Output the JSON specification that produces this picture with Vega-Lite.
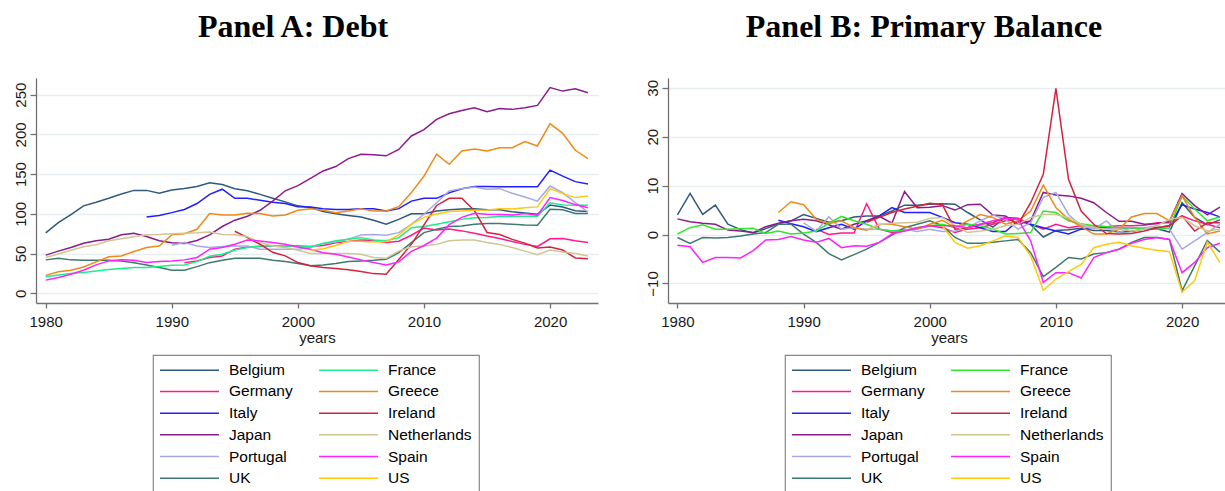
{
"$schema": "https://vega.github.io/schema/vega-lite/v6.json",
"background": "white",
"padding": {"left": 12, "top": 11, "right": 0, "bottom": 0},
"spacing": 46,
"datasets": {
"debt": [
{"c":"Belgium","y":1980,"v":76},{"c":"Belgium","y":1981,"v":89},{"c":"Belgium","y":1982,"v":99},{"c":"Belgium","y":1983,"v":110},{"c":"Belgium","y":1984,"v":114.5},{"c":"Belgium","y":1985,"v":119.5},{"c":"Belgium","y":1986,"v":125},{"c":"Belgium","y":1987,"v":129.5},{"c":"Belgium","y":1988,"v":129.5},{"c":"Belgium","y":1989,"v":126},
{"c":"Belgium","y":1990,"v":130},{"c":"Belgium","y":1991,"v":132},{"c":"Belgium","y":1992,"v":134.5},{"c":"Belgium","y":1993,"v":139},{"c":"Belgium","y":1994,"v":137},{"c":"Belgium","y":1995,"v":131.5},{"c":"Belgium","y":1996,"v":129},{"c":"Belgium","y":1997,"v":124.5},{"c":"Belgium","y":1998,"v":119.5},{"c":"Belgium","y":1999,"v":115},
{"c":"Belgium","y":2000,"v":110},{"c":"Belgium","y":2001,"v":108},{"c":"Belgium","y":2002,"v":103},{"c":"Belgium","y":2003,"v":100},{"c":"Belgium","y":2004,"v":98},{"c":"Belgium","y":2005,"v":96},{"c":"Belgium","y":2006,"v":92},{"c":"Belgium","y":2007,"v":87},{"c":"Belgium","y":2008,"v":93},{"c":"Belgium","y":2009,"v":100},
{"c":"Belgium","y":2010,"v":100},{"c":"Belgium","y":2011,"v":103.5},{"c":"Belgium","y":2012,"v":105},{"c":"Belgium","y":2013,"v":106},{"c":"Belgium","y":2014,"v":106.5},{"c":"Belgium","y":2015,"v":105},{"c":"Belgium","y":2016,"v":105},{"c":"Belgium","y":2017,"v":102.5},{"c":"Belgium","y":2018,"v":101},{"c":"Belgium","y":2019,"v":99.5},
{"c":"Belgium","y":2020,"v":111},{"c":"Belgium","y":2021,"v":108.5},{"c":"Belgium","y":2022,"v":104},{"c":"Belgium","y":2023,"v":103},
{"c":"Germany","y":1991,"v":38.5},{"c":"Germany","y":1992,"v":40.7},{"c":"Germany","y":1993,"v":45},{"c":"Germany","y":1994,"v":47},{"c":"Germany","y":1995,"v":55.5},{"c":"Germany","y":1996,"v":58.3},{"c":"Germany","y":1997,"v":58.7},{"c":"Germany","y":1998,"v":59},{"c":"Germany","y":1999,"v":59.5},
{"c":"Germany","y":2000,"v":59.5},{"c":"Germany","y":2001,"v":58.7},{"c":"Germany","y":2002,"v":60},{"c":"Germany","y":2003,"v":63.5},{"c":"Germany","y":2004,"v":65},{"c":"Germany","y":2005,"v":67},{"c":"Germany","y":2006,"v":66.5},{"c":"Germany","y":2007,"v":64},{"c":"Germany","y":2008,"v":65.5},{"c":"Germany","y":2009,"v":73},
{"c":"Germany","y":2010,"v":82},{"c":"Germany","y":2011,"v":79.5},{"c":"Germany","y":2012,"v":81},{"c":"Germany","y":2013,"v":78.5},{"c":"Germany","y":2014,"v":75.5},{"c":"Germany","y":2015,"v":72},{"c":"Germany","y":2016,"v":69},{"c":"Germany","y":2017,"v":65},{"c":"Germany","y":2018,"v":61.5},{"c":"Germany","y":2019,"v":59},
{"c":"Germany","y":2020,"v":68.5},{"c":"Germany","y":2021,"v":69},{"c":"Germany","y":2022,"v":66},{"c":"Germany","y":2023,"v":64},
{"c":"Italy","y":1988,"v":96},{"c":"Italy","y":1989,"v":98},{"c":"Italy","y":1990,"v":101.5},{"c":"Italy","y":1991,"v":105.5},{"c":"Italy","y":1992,"v":113},{"c":"Italy","y":1993,"v":124.5},{"c":"Italy","y":1994,"v":131},{"c":"Italy","y":1995,"v":119.5},{"c":"Italy","y":1996,"v":119.5},{"c":"Italy","y":1997,"v":117},{"c":"Italy","y":1998,"v":114.5},{"c":"Italy","y":1999,"v":113},
{"c":"Italy","y":2000,"v":109},{"c":"Italy","y":2001,"v":108.5},{"c":"Italy","y":2002,"v":106.5},{"c":"Italy","y":2003,"v":105.5},{"c":"Italy","y":2004,"v":105.5},{"c":"Italy","y":2005,"v":106.5},{"c":"Italy","y":2006,"v":106.5},{"c":"Italy","y":2007,"v":103.5},{"c":"Italy","y":2008,"v":106.5},{"c":"Italy","y":2009,"v":116},
{"c":"Italy","y":2010,"v":119.5},{"c":"Italy","y":2011,"v":119.5},{"c":"Italy","y":2012,"v":126.5},{"c":"Italy","y":2013,"v":131.5},{"c":"Italy","y":2014,"v":134.5},{"c":"Italy","y":2015,"v":134.5},{"c":"Italy","y":2016,"v":134},{"c":"Italy","y":2017,"v":134},{"c":"Italy","y":2018,"v":134},{"c":"Italy","y":2019,"v":134},
{"c":"Italy","y":2020,"v":155},{"c":"Italy","y":2021,"v":147.5},{"c":"Italy","y":2022,"v":140.5},{"c":"Italy","y":2023,"v":137.5},
{"c":"Japan","y":1980,"v":48},{"c":"Japan","y":1981,"v":53},{"c":"Japan","y":1982,"v":57.5},{"c":"Japan","y":1983,"v":63},{"c":"Japan","y":1984,"v":66},{"c":"Japan","y":1985,"v":68},{"c":"Japan","y":1986,"v":73.5},{"c":"Japan","y":1987,"v":75.5},{"c":"Japan","y":1988,"v":71.5},{"c":"Japan","y":1989,"v":66},
{"c":"Japan","y":1990,"v":63.5},{"c":"Japan","y":1991,"v":62.5},{"c":"Japan","y":1992,"v":66.5},{"c":"Japan","y":1993,"v":73.5},{"c":"Japan","y":1994,"v":84},{"c":"Japan","y":1995,"v":92},{"c":"Japan","y":1996,"v":97},{"c":"Japan","y":1997,"v":104.5},{"c":"Japan","y":1998,"v":116},{"c":"Japan","y":1999,"v":129},
{"c":"Japan","y":2000,"v":135.5},{"c":"Japan","y":2001,"v":144.5},{"c":"Japan","y":2002,"v":154},{"c":"Japan","y":2003,"v":159.5},{"c":"Japan","y":2004,"v":169.5},{"c":"Japan","y":2005,"v":175},{"c":"Japan","y":2006,"v":174.5},{"c":"Japan","y":2007,"v":173},{"c":"Japan","y":2008,"v":181},{"c":"Japan","y":2009,"v":198},
{"c":"Japan","y":2010,"v":206},{"c":"Japan","y":2011,"v":219},{"c":"Japan","y":2012,"v":226},{"c":"Japan","y":2013,"v":230},{"c":"Japan","y":2014,"v":233.5},{"c":"Japan","y":2015,"v":228.5},{"c":"Japan","y":2016,"v":232.5},{"c":"Japan","y":2017,"v":231.5},{"c":"Japan","y":2018,"v":233.5},{"c":"Japan","y":2019,"v":236.5},
{"c":"Japan","y":2020,"v":259},{"c":"Japan","y":2021,"v":254.5},{"c":"Japan","y":2022,"v":257.5},{"c":"Japan","y":2023,"v":252.5},
{"c":"Portugal","y":1990,"v":60.5},{"c":"Portugal","y":1991,"v":63.8},{"c":"Portugal","y":1992,"v":59.6},{"c":"Portugal","y":1993,"v":57.5},{"c":"Portugal","y":1994,"v":58.7},{"c":"Portugal","y":1995,"v":59.6},{"c":"Portugal","y":1996,"v":59.6},{"c":"Portugal","y":1997,"v":55.4},{"c":"Portugal","y":1998,"v":55.4},{"c":"Portugal","y":1999,"v":55.4},
{"c":"Portugal","y":2000,"v":55.4},{"c":"Portugal","y":2001,"v":57.5},{"c":"Portugal","y":2002,"v":62.5},{"c":"Portugal","y":2003,"v":64.6},{"c":"Portugal","y":2004,"v":68},{"c":"Portugal","y":2005,"v":73.4},{"c":"Portugal","y":2006,"v":74},{"c":"Portugal","y":2007,"v":73},{"c":"Portugal","y":2008,"v":76.3},{"c":"Portugal","y":2009,"v":86.8},
{"c":"Portugal","y":2010,"v":99.4},{"c":"Portugal","y":2011,"v":114},{"c":"Portugal","y":2012,"v":128.8},{"c":"Portugal","y":2013,"v":131.7},{"c":"Portugal","y":2014,"v":133.8},{"c":"Portugal","y":2015,"v":130.9},{"c":"Portugal","y":2016,"v":131.7},{"c":"Portugal","y":2017,"v":125.8},{"c":"Portugal","y":2018,"v":121.2},{"c":"Portugal","y":2019,"v":116},
{"c":"Portugal","y":2020,"v":135},{"c":"Portugal","y":2021,"v":126.7},{"c":"Portugal","y":2022,"v":114},{"c":"Portugal","y":2023,"v":102.3},
{"c":"UK","y":1980,"v":42},{"c":"UK","y":1981,"v":44},{"c":"UK","y":1982,"v":42},{"c":"UK","y":1983,"v":41.5},{"c":"UK","y":1984,"v":41.5},{"c":"UK","y":1985,"v":41.5},{"c":"UK","y":1986,"v":40.5},{"c":"UK","y":1987,"v":38.5},{"c":"UK","y":1988,"v":35.5},{"c":"UK","y":1989,"v":32.5},
{"c":"UK","y":1990,"v":29},{"c":"UK","y":1991,"v":29},{"c":"UK","y":1992,"v":33.5},{"c":"UK","y":1993,"v":38.5},{"c":"UK","y":1994,"v":41.5},{"c":"UK","y":1995,"v":44},{"c":"UK","y":1996,"v":44},{"c":"UK","y":1997,"v":44},{"c":"UK","y":1998,"v":41.5},{"c":"UK","y":1999,"v":40},
{"c":"UK","y":2000,"v":37.3},{"c":"UK","y":2001,"v":34.5},{"c":"UK","y":2002,"v":35.5},{"c":"UK","y":2003,"v":37.3},{"c":"UK","y":2004,"v":40},{"c":"UK","y":2005,"v":40.7},{"c":"UK","y":2006,"v":41.5},{"c":"UK","y":2007,"v":42.8},{"c":"UK","y":2008,"v":51},{"c":"UK","y":2009,"v":63.8},
{"c":"UK","y":2010,"v":76.3},{"c":"UK","y":2011,"v":80.5},{"c":"UK","y":2012,"v":84},{"c":"UK","y":2013,"v":84.7},{"c":"UK","y":2014,"v":86.8},{"c":"UK","y":2015,"v":87.7},{"c":"UK","y":2016,"v":87.7},{"c":"UK","y":2017,"v":86.8},{"c":"UK","y":2018,"v":86},{"c":"UK","y":2019,"v":85.6},
{"c":"UK","y":2020,"v":105.7},{"c":"UK","y":2021,"v":105},{"c":"UK","y":2022,"v":100.3},{"c":"UK","y":2023,"v":100.3},
{"c":"France","y":1980,"v":20.7},{"c":"France","y":1981,"v":23},{"c":"France","y":1982,"v":25},{"c":"France","y":1983,"v":26},{"c":"France","y":1984,"v":28},{"c":"France","y":1985,"v":30},{"c":"France","y":1986,"v":31},{"c":"France","y":1987,"v":32.3},{"c":"France","y":1988,"v":32.3},{"c":"France","y":1989,"v":33.6},
{"c":"France","y":1990,"v":35.2},{"c":"France","y":1991,"v":35.7},{"c":"France","y":1992,"v":39.8},{"c":"France","y":1993,"v":46.5},{"c":"France","y":1994,"v":49},{"c":"France","y":1995,"v":54.5},{"c":"France","y":1996,"v":57.5},{"c":"France","y":1997,"v":59.5},{"c":"France","y":1998,"v":59.5},{"c":"France","y":1999,"v":59.5},
{"c":"France","y":2000,"v":58.7},{"c":"France","y":2001,"v":58.5},{"c":"France","y":2002,"v":62.5},{"c":"France","y":2003,"v":66},{"c":"France","y":2004,"v":68},{"c":"France","y":2005,"v":70},{"c":"France","y":2006,"v":67},{"c":"France","y":2007,"v":66},{"c":"France","y":2008,"v":70},{"c":"France","y":2009,"v":82.6},
{"c":"France","y":2010,"v":84},{"c":"France","y":2011,"v":86.8},{"c":"France","y":2012,"v":90},{"c":"France","y":2013,"v":93},{"c":"France","y":2014,"v":95},{"c":"France","y":2015,"v":95.5},{"c":"France","y":2016,"v":97},{"c":"France","y":2017,"v":97},{"c":"France","y":2018,"v":97},{"c":"France","y":2019,"v":97},
{"c":"France","y":2020,"v":114},{"c":"France","y":2021,"v":111},{"c":"France","y":2022,"v":110.7},{"c":"France","y":2023,"v":110.7},
{"c":"Greece","y":1980,"v":22.5},{"c":"Greece","y":1981,"v":27},{"c":"Greece","y":1982,"v":29},{"c":"Greece","y":1983,"v":33},{"c":"Greece","y":1984,"v":39.5},{"c":"Greece","y":1985,"v":46},{"c":"Greece","y":1986,"v":47},{"c":"Greece","y":1987,"v":52.5},{"c":"Greece","y":1988,"v":57.5},{"c":"Greece","y":1989,"v":59.5},
{"c":"Greece","y":1990,"v":73.5},{"c":"Greece","y":1991,"v":75},{"c":"Greece","y":1992,"v":80.5},{"c":"Greece","y":1993,"v":100.3},{"c":"Greece","y":1994,"v":98.6},{"c":"Greece","y":1995,"v":98.6},{"c":"Greece","y":1996,"v":100.7},{"c":"Greece","y":1997,"v":100.3},{"c":"Greece","y":1998,"v":97.3},{"c":"Greece","y":1999,"v":98.6},
{"c":"Greece","y":2000,"v":104.4},{"c":"Greece","y":2001,"v":106.5},{"c":"Greece","y":2002,"v":104.4},{"c":"Greece","y":2003,"v":101.5},{"c":"Greece","y":2004,"v":103.6},{"c":"Greece","y":2005,"v":106.5},{"c":"Greece","y":2006,"v":103.6},{"c":"Greece","y":2007,"v":103.6},{"c":"Greece","y":2008,"v":109},{"c":"Greece","y":2009,"v":126.7},
{"c":"Greece","y":2010,"v":147.6},{"c":"Greece","y":2011,"v":175},{"c":"Greece","y":2012,"v":162.3},{"c":"Greece","y":2013,"v":179},{"c":"Greece","y":2014,"v":181.6},{"c":"Greece","y":2015,"v":179},{"c":"Greece","y":2016,"v":183.3},{"c":"Greece","y":2017,"v":183.3},{"c":"Greece","y":2018,"v":190.9},{"c":"Greece","y":2019,"v":185.4},
{"c":"Greece","y":2020,"v":213.5},{"c":"Greece","y":2021,"v":201.3},{"c":"Greece","y":2022,"v":180},{"c":"Greece","y":2023,"v":169.5},
{"c":"Ireland","y":1995,"v":78},{"c":"Ireland","y":1996,"v":70},{"c":"Ireland","y":1997,"v":61.7},{"c":"Ireland","y":1998,"v":51.5},{"c":"Ireland","y":1999,"v":47},
{"c":"Ireland","y":2000,"v":38.6},{"c":"Ireland","y":2001,"v":34.5},{"c":"Ireland","y":2002,"v":32.5},{"c":"Ireland","y":2003,"v":31},{"c":"Ireland","y":2004,"v":29.5},{"c":"Ireland","y":2005,"v":27.5},{"c":"Ireland","y":2006,"v":24.7},{"c":"Ireland","y":2007,"v":24},{"c":"Ireland","y":2008,"v":42.5},{"c":"Ireland","y":2009,"v":61.5},
{"c":"Ireland","y":2010,"v":86},{"c":"Ireland","y":2011,"v":110.5},{"c":"Ireland","y":2012,"v":119.5},{"c":"Ireland","y":2013,"v":119.5},{"c":"Ireland","y":2014,"v":104},{"c":"Ireland","y":2015,"v":76.5},{"c":"Ireland","y":2016,"v":74},{"c":"Ireland","y":2017,"v":67.8},{"c":"Ireland","y":2018,"v":63.1},{"c":"Ireland","y":2019,"v":57.1},
{"c":"Ireland","y":2020,"v":58.1},{"c":"Ireland","y":2021,"v":54.4},{"c":"Ireland","y":2022,"v":44.4},{"c":"Ireland","y":2023,"v":43.3},
{"c":"Netherlands","y":1980,"v":45},{"c":"Netherlands","y":1981,"v":49.5},{"c":"Netherlands","y":1982,"v":54},{"c":"Netherlands","y":1983,"v":58.5},{"c":"Netherlands","y":1984,"v":61},{"c":"Netherlands","y":1985,"v":66},{"c":"Netherlands","y":1986,"v":68.5},{"c":"Netherlands","y":1987,"v":71},{"c":"Netherlands","y":1988,"v":73.5},{"c":"Netherlands","y":1989,"v":74},
{"c":"Netherlands","y":1990,"v":75},{"c":"Netherlands","y":1991,"v":75.5},{"c":"Netherlands","y":1992,"v":76},{"c":"Netherlands","y":1993,"v":77},{"c":"Netherlands","y":1994,"v":74},{"c":"Netherlands","y":1995,"v":73.5},{"c":"Netherlands","y":1996,"v":71},{"c":"Netherlands","y":1997,"v":64},{"c":"Netherlands","y":1998,"v":59.5},{"c":"Netherlands","y":1999,"v":57.5},
{"c":"Netherlands","y":2000,"v":54},{"c":"Netherlands","y":2001,"v":50},{"c":"Netherlands","y":2002,"v":50},{"c":"Netherlands","y":2003,"v":50},{"c":"Netherlands","y":2004,"v":50},{"c":"Netherlands","y":2005,"v":49},{"c":"Netherlands","y":2006,"v":45},{"c":"Netherlands","y":2007,"v":44},{"c":"Netherlands","y":2008,"v":53},{"c":"Netherlands","y":2009,"v":58.5},
{"c":"Netherlands","y":2010,"v":59.5},{"c":"Netherlands","y":2011,"v":61.5},{"c":"Netherlands","y":2012,"v":66},{"c":"Netherlands","y":2013,"v":67},{"c":"Netherlands","y":2014,"v":67},{"c":"Netherlands","y":2015,"v":64},{"c":"Netherlands","y":2016,"v":61.5},{"c":"Netherlands","y":2017,"v":57.5},{"c":"Netherlands","y":2018,"v":53},{"c":"Netherlands","y":2019,"v":48.5},
{"c":"Netherlands","y":2020,"v":54.5},{"c":"Netherlands","y":2021,"v":52},{"c":"Netherlands","y":2022,"v":50},{"c":"Netherlands","y":2023,"v":47},
{"c":"Spain","y":1980,"v":16.5},{"c":"Spain","y":1981,"v":19.7},{"c":"Spain","y":1982,"v":24},{"c":"Spain","y":1983,"v":29},{"c":"Spain","y":1984,"v":35.7},{"c":"Spain","y":1985,"v":40.7},{"c":"Spain","y":1986,"v":42},{"c":"Spain","y":1987,"v":41.5},{"c":"Spain","y":1988,"v":38.6},{"c":"Spain","y":1989,"v":39.8},
{"c":"Spain","y":1990,"v":40.7},{"c":"Spain","y":1991,"v":42},{"c":"Spain","y":1992,"v":45},{"c":"Spain","y":1993,"v":55.4},{"c":"Spain","y":1994,"v":57.5},{"c":"Spain","y":1995,"v":61.7},{"c":"Spain","y":1996,"v":67},{"c":"Spain","y":1997,"v":65.9},{"c":"Spain","y":1998,"v":63.8},{"c":"Spain","y":1999,"v":61.7},
{"c":"Spain","y":2000,"v":58.3},{"c":"Spain","y":2001,"v":55.4},{"c":"Spain","y":2002,"v":51},{"c":"Spain","y":2003,"v":49},{"c":"Spain","y":2004,"v":45.7},{"c":"Spain","y":2005,"v":42},{"c":"Spain","y":2006,"v":38.6},{"c":"Spain","y":2007,"v":35.7},{"c":"Spain","y":2008,"v":39.5},{"c":"Spain","y":2009,"v":52.7},
{"c":"Spain","y":2010,"v":60.1},{"c":"Spain","y":2011,"v":69.5},{"c":"Spain","y":2012,"v":86.3},{"c":"Spain","y":2013,"v":95.5},{"c":"Spain","y":2014,"v":100.7},{"c":"Spain","y":2015,"v":99.3},{"c":"Spain","y":2016,"v":99.2},{"c":"Spain","y":2017,"v":98.6},{"c":"Spain","y":2018,"v":100.5},{"c":"Spain","y":2019,"v":98.2},
{"c":"Spain","y":2020,"v":120.4},{"c":"Spain","y":2021,"v":116.8},{"c":"Spain","y":2022,"v":111.6},{"c":"Spain","y":2023,"v":107.7},
{"c":"US","y":2001,"v":54},{"c":"US","y":2002,"v":56},{"c":"US","y":2003,"v":60},{"c":"US","y":2004,"v":65.5},{"c":"US","y":2005,"v":65.5},{"c":"US","y":2006,"v":64.5},{"c":"US","y":2007,"v":65},{"c":"US","y":2008,"v":73.5},{"c":"US","y":2009,"v":86.7},
{"c":"US","y":2010,"v":95.5},{"c":"US","y":2011,"v":99.8},{"c":"US","y":2012,"v":102.8},{"c":"US","y":2013,"v":103.6},{"c":"US","y":2014,"v":104.4},{"c":"US","y":2015,"v":104.8},{"c":"US","y":2016,"v":106.5},{"c":"US","y":2017,"v":106.2},{"c":"US","y":2018,"v":107.5},{"c":"US","y":2019,"v":108.7},
{"c":"US","y":2020,"v":131.7},{"c":"US","y":2021,"v":125.4},{"c":"US","y":2022,"v":120.4},{"c":"US","y":2023,"v":122.3}
],
"pb": [
{"c":"Belgium","y":1980,"v":4.0},{"c":"Belgium","y":1981,"v":8.4},{"c":"Belgium","y":1982,"v":4.1},{"c":"Belgium","y":1983,"v":6.0},{"c":"Belgium","y":1984,"v":2.1},{"c":"Belgium","y":1985,"v":1.0},{"c":"Belgium","y":1986,"v":0.3},{"c":"Belgium","y":1987,"v":1.2},{"c":"Belgium","y":1988,"v":2.2},{"c":"Belgium","y":1989,"v":2.8},
{"c":"Belgium","y":1990,"v":4.1},{"c":"Belgium","y":1991,"v":3.3},{"c":"Belgium","y":1992,"v":2.5},{"c":"Belgium","y":1993,"v":2.8},{"c":"Belgium","y":1994,"v":3.6},{"c":"Belgium","y":1995,"v":3.8},{"c":"Belgium","y":1996,"v":3.8},{"c":"Belgium","y":1997,"v":4.8},{"c":"Belgium","y":1998,"v":6.0},{"c":"Belgium","y":1999,"v":6.0},
{"c":"Belgium","y":2000,"v":6.2},{"c":"Belgium","y":2001,"v":6.3},{"c":"Belgium","y":2002,"v":6.2},{"c":"Belgium","y":2003,"v":4.5},{"c":"Belgium","y":2004,"v":3.0},{"c":"Belgium","y":2005,"v":1.5},{"c":"Belgium","y":2006,"v":3.5},{"c":"Belgium","y":2007,"v":3.3},{"c":"Belgium","y":2008,"v":2.0},{"c":"Belgium","y":2009,"v":-0.5},
{"c":"Belgium","y":2010,"v":0.8},{"c":"Belgium","y":2011,"v":1.0},{"c":"Belgium","y":2012,"v":1.3},{"c":"Belgium","y":2013,"v":0.8},{"c":"Belgium","y":2014,"v":0.8},{"c":"Belgium","y":2015,"v":0.5},{"c":"Belgium","y":2016,"v":0.6},{"c":"Belgium","y":2017,"v":1.2},{"c":"Belgium","y":2018,"v":1.2},{"c":"Belgium","y":2019,"v":0.5},
{"c":"Belgium","y":2020,"v":6.5},{"c":"Belgium","y":2021,"v":3.5},{"c":"Belgium","y":2022,"v":2.0},{"c":"Belgium","y":2023,"v":3.0},
{"c":"Germany","y":1991,"v":1.1},{"c":"Germany","y":1992,"v":0.0},{"c":"Germany","y":1993,"v":0.3},{"c":"Germany","y":1994,"v":0.3},{"c":"Germany","y":1995,"v":6.3},{"c":"Germany","y":1996,"v":1.1},{"c":"Germany","y":1997,"v":0.4},{"c":"Germany","y":1998,"v":0.8},{"c":"Germany","y":1999,"v":1.2},
{"c":"Germany","y":2000,"v":1.8},{"c":"Germany","y":2001,"v":1.4},{"c":"Germany","y":2002,"v":0.4},{"c":"Germany","y":2003,"v":1.1},{"c":"Germany","y":2004,"v":1.4},{"c":"Germany","y":2005,"v":2.1},{"c":"Germany","y":2006,"v":2.8},{"c":"Germany","y":2007,"v":3.3},{"c":"Germany","y":2008,"v":2.1},{"c":"Germany","y":2009,"v":1.1},
{"c":"Germany","y":2010,"v":2.1},{"c":"Germany","y":2011,"v":1.4},{"c":"Germany","y":2012,"v":1.8},{"c":"Germany","y":2013,"v":1.8},{"c":"Germany","y":2014,"v":1.6},{"c":"Germany","y":2015,"v":1.8},{"c":"Germany","y":2016,"v":1.8},{"c":"Germany","y":2017,"v":1.9},{"c":"Germany","y":2018,"v":2.4},{"c":"Germany","y":2019,"v":2.4},
{"c":"Germany","y":2020,"v":3.8},{"c":"Germany","y":2021,"v":2.8},{"c":"Germany","y":2022,"v":2.1},{"c":"Germany","y":2023,"v":1.4},
{"c":"Italy","y":1988,"v":2.9},{"c":"Italy","y":1989,"v":2.2},{"c":"Italy","y":1990,"v":1.6},{"c":"Italy","y":1991,"v":0.6},{"c":"Italy","y":1992,"v":1.4},{"c":"Italy","y":1993,"v":2.1},{"c":"Italy","y":1994,"v":1.1},{"c":"Italy","y":1995,"v":2.8},{"c":"Italy","y":1996,"v":3.8},{"c":"Italy","y":1997,"v":5.5},{"c":"Italy","y":1998,"v":4.5},{"c":"Italy","y":1999,"v":4.5},
{"c":"Italy","y":2000,"v":4.5},{"c":"Italy","y":2001,"v":3.5},{"c":"Italy","y":2002,"v":2.4},{"c":"Italy","y":2003,"v":2.1},{"c":"Italy","y":2004,"v":1.4},{"c":"Italy","y":2005,"v":0.6},{"c":"Italy","y":2006,"v":0.6},{"c":"Italy","y":2007,"v":2.8},{"c":"Italy","y":2008,"v":2.1},{"c":"Italy","y":2009,"v":1.4},
{"c":"Italy","y":2010,"v":0.7},{"c":"Italy","y":2011,"v":0.1},{"c":"Italy","y":2012,"v":1.1},{"c":"Italy","y":2013,"v":1.4},{"c":"Italy","y":2014,"v":1.4},{"c":"Italy","y":2015,"v":1.4},{"c":"Italy","y":2016,"v":1.4},{"c":"Italy","y":2017,"v":1.4},{"c":"Italy","y":2018,"v":1.4},{"c":"Italy","y":2019,"v":1.8},
{"c":"Italy","y":2020,"v":6.1},{"c":"Italy","y":2021,"v":5.2},{"c":"Italy","y":2022,"v":4.5},{"c":"Italy","y":2023,"v":3.6},
{"c":"Japan","y":1980,"v":3.2},{"c":"Japan","y":1981,"v":2.6},{"c":"Japan","y":1982,"v":2.3},{"c":"Japan","y":1983,"v":2.1},{"c":"Japan","y":1984,"v":0.9},{"c":"Japan","y":1985,"v":0.7},{"c":"Japan","y":1986,"v":0.4},{"c":"Japan","y":1987,"v":1.6},{"c":"Japan","y":1988,"v":2.3},{"c":"Japan","y":1989,"v":2.8},
{"c":"Japan","y":1990,"v":3.1},{"c":"Japan","y":1991,"v":2.8},{"c":"Japan","y":1992,"v":2.0},{"c":"Japan","y":1993,"v":1.1},{"c":"Japan","y":1994,"v":2.1},{"c":"Japan","y":1995,"v":2.8},{"c":"Japan","y":1996,"v":3.7},{"c":"Japan","y":1997,"v":2.3},{"c":"Japan","y":1998,"v":8.8},{"c":"Japan","y":1999,"v":5.5},
{"c":"Japan","y":2000,"v":5.6},{"c":"Japan","y":2001,"v":5.9},{"c":"Japan","y":2002,"v":5.0},{"c":"Japan","y":2003,"v":6.1},{"c":"Japan","y":2004,"v":6.2},{"c":"Japan","y":2005,"v":4.0},{"c":"Japan","y":2006,"v":3.8},{"c":"Japan","y":2007,"v":2.1},{"c":"Japan","y":2008,"v":2.8},{"c":"Japan","y":2009,"v":8.6},
{"c":"Japan","y":2010,"v":8.1},{"c":"Japan","y":2011,"v":7.9},{"c":"Japan","y":2012,"v":7.4},{"c":"Japan","y":2013,"v":6.5},{"c":"Japan","y":2014,"v":4.5},{"c":"Japan","y":2015,"v":2.7},{"c":"Japan","y":2016,"v":2.7},{"c":"Japan","y":2017,"v":2.1},{"c":"Japan","y":2018,"v":2.2},{"c":"Japan","y":2019,"v":2.7},
{"c":"Japan","y":2020,"v":8.4},{"c":"Japan","y":2021,"v":5.9},{"c":"Japan","y":2022,"v":4.0},{"c":"Japan","y":2023,"v":5.6},
{"c":"Portugal","y":1990,"v":2.4},{"c":"Portugal","y":1991,"v":0.7},{"c":"Portugal","y":1992,"v":3.6},{"c":"Portugal","y":1993,"v":1.1},{"c":"Portugal","y":1994,"v":1.4},{"c":"Portugal","y":1995,"v":1.1},{"c":"Portugal","y":1996,"v":1.1},{"c":"Portugal","y":1997,"v":0.7},{"c":"Portugal","y":1998,"v":1.1},{"c":"Portugal","y":1999,"v":0.6},
{"c":"Portugal","y":2000,"v":1.1},{"c":"Portugal","y":2001,"v":0.6},{"c":"Portugal","y":2002,"v":0.7},{"c":"Portugal","y":2003,"v":1.4},{"c":"Portugal","y":2004,"v":2.8},{"c":"Portugal","y":2005,"v":4.0},{"c":"Portugal","y":2006,"v":3.1},{"c":"Portugal","y":2007,"v":1.1},{"c":"Portugal","y":2008,"v":2.4},{"c":"Portugal","y":2009,"v":7.6},
{"c":"Portugal","y":2010,"v":8.6},{"c":"Portugal","y":2011,"v":4.1},{"c":"Portugal","y":2012,"v":1.8},{"c":"Portugal","y":2013,"v":1.1},{"c":"Portugal","y":2014,"v":2.8},{"c":"Portugal","y":2015,"v":0.4},{"c":"Portugal","y":2016,"v":1.4},{"c":"Portugal","y":2017,"v":1.4},{"c":"Portugal","y":2018,"v":1.8},{"c":"Portugal","y":2019,"v":1.1},
{"c":"Portugal","y":2020,"v":-3.0},{"c":"Portugal","y":2021,"v":-1.3},{"c":"Portugal","y":2022,"v":0.4},{"c":"Portugal","y":2023,"v":2.1},
{"c":"UK","y":1980,"v":-0.6},{"c":"UK","y":1981,"v":-1.8},{"c":"UK","y":1982,"v":-0.6},{"c":"UK","y":1983,"v":-0.7},{"c":"UK","y":1984,"v":-0.6},{"c":"UK","y":1985,"v":-0.3},{"c":"UK","y":1986,"v":0.1},{"c":"UK","y":1987,"v":0.4},{"c":"UK","y":1988,"v":2.1},{"c":"UK","y":1989,"v":2.1},
{"c":"UK","y":1990,"v":0.1},{"c":"UK","y":1991,"v":-1.6},{"c":"UK","y":1992,"v":-3.9},{"c":"UK","y":1993,"v":-5.2},{"c":"UK","y":1994,"v":-4.1},{"c":"UK","y":1995,"v":-3.0},{"c":"UK","y":1996,"v":-1.6},{"c":"UK","y":1997,"v":-0.1},{"c":"UK","y":1998,"v":1.4},{"c":"UK","y":1999,"v":2.1},
{"c":"UK","y":2000,"v":2.8},{"c":"UK","y":2001,"v":1.8},{"c":"UK","y":2002,"v":-0.6},{"c":"UK","y":2003,"v":-1.8},{"c":"UK","y":2004,"v":-1.8},{"c":"UK","y":2005,"v":-1.6},{"c":"UK","y":2006,"v":-1.3},{"c":"UK","y":2007,"v":-1.0},{"c":"UK","y":2008,"v":-3.7},{"c":"UK","y":2009,"v":-8.6},
{"c":"UK","y":2010,"v":-6.7},{"c":"UK","y":2011,"v":-4.7},{"c":"UK","y":2012,"v":-5.0},{"c":"UK","y":2013,"v":-4.0},{"c":"UK","y":2014,"v":-3.7},{"c":"UK","y":2015,"v":-3.0},{"c":"UK","y":2016,"v":-1.6},{"c":"UK","y":2017,"v":-0.6},{"c":"UK","y":2018,"v":-0.6},{"c":"UK","y":2019,"v":-1.0},
{"c":"UK","y":2020,"v":-11.5},{"c":"UK","y":2021,"v":-6.4},{"c":"UK","y":2022,"v":-1.2},{"c":"UK","y":2023,"v":-3.6},
{"c":"France","y":1980,"v":0.1},{"c":"France","y":1981,"v":1.4},{"c":"France","y":1982,"v":2.0},{"c":"France","y":1983,"v":1.1},{"c":"France","y":1984,"v":1.1},{"c":"France","y":1985,"v":1.2},{"c":"France","y":1986,"v":1.3},{"c":"France","y":1987,"v":0.2},{"c":"France","y":1988,"v":0.7},{"c":"France","y":1989,"v":0.1},
{"c":"France","y":1990,"v":0.3},{"c":"France","y":1991,"v":0.7},{"c":"France","y":1992,"v":2.3},{"c":"France","y":1993,"v":3.7},{"c":"France","y":1994,"v":2.8},{"c":"France","y":1995,"v":2.1},{"c":"France","y":1996,"v":1.1},{"c":"France","y":1997,"v":0.7},{"c":"France","y":1998,"v":0.7},{"c":"France","y":1999,"v":1.4},
{"c":"France","y":2000,"v":1.8},{"c":"France","y":2001,"v":2.1},{"c":"France","y":2002,"v":1.4},{"c":"France","y":2003,"v":2.1},{"c":"France","y":2004,"v":1.8},{"c":"France","y":2005,"v":1.1},{"c":"France","y":2006,"v":0.1},{"c":"France","y":2007,"v":0.2},{"c":"France","y":2008,"v":0.4},{"c":"France","y":2009,"v":4.8},
{"c":"France","y":2010,"v":4.5},{"c":"France","y":2011,"v":2.8},{"c":"France","y":2012,"v":2.2},{"c":"France","y":2013,"v":1.8},{"c":"France","y":2014,"v":1.6},{"c":"France","y":2015,"v":1.4},{"c":"France","y":2016,"v":1.4},{"c":"France","y":2017,"v":1.1},{"c":"France","y":2018,"v":1.1},{"c":"France","y":2019,"v":1.4},
{"c":"France","y":2020,"v":7.9},{"c":"France","y":2021,"v":5.2},{"c":"France","y":2022,"v":2.8},{"c":"France","y":2023,"v":3.6},
{"c":"Greece","y":1988,"v":4.5},{"c":"Greece","y":1989,"v":6.7},{"c":"Greece","y":1990,"v":6.1},{"c":"Greece","y":1991,"v":3.1},{"c":"Greece","y":1992,"v":2.2},{"c":"Greece","y":1993,"v":2.8},{"c":"Greece","y":1994,"v":1.4},{"c":"Greece","y":1995,"v":0.9},{"c":"Greece","y":1996,"v":2.1},{"c":"Greece","y":1997,"v":2.1},{"c":"Greece","y":1998,"v":1.6},{"c":"Greece","y":1999,"v":1.1},
{"c":"Greece","y":2000,"v":2.1},{"c":"Greece","y":2001,"v":2.9},{"c":"Greece","y":2002,"v":1.4},{"c":"Greece","y":2003,"v":2.8},{"c":"Greece","y":2004,"v":4.1},{"c":"Greece","y":2005,"v":3.5},{"c":"Greece","y":2006,"v":2.1},{"c":"Greece","y":2007,"v":2.8},{"c":"Greece","y":2008,"v":4.8},{"c":"Greece","y":2009,"v":10.1},
{"c":"Greece","y":2010,"v":5.5},{"c":"Greece","y":2011,"v":3.1},{"c":"Greece","y":2012,"v":1.6},{"c":"Greece","y":2013,"v":0.1},{"c":"Greece","y":2014,"v":0.1},{"c":"Greece","y":2015,"v":1.1},{"c":"Greece","y":2016,"v":3.6},{"c":"Greece","y":2017,"v":4.3},{"c":"Greece","y":2018,"v":4.3},{"c":"Greece","y":2019,"v":2.8},
{"c":"Greece","y":2020,"v":7.9},{"c":"Greece","y":2021,"v":3.5},{"c":"Greece","y":2022,"v":0.1},{"c":"Greece","y":2023,"v":0.7},
{"c":"Ireland","y":1995,"v":2.5},{"c":"Ireland","y":1996,"v":3.5},{"c":"Ireland","y":1997,"v":4.5},{"c":"Ireland","y":1998,"v":5.2},{"c":"Ireland","y":1999,"v":5.8},
{"c":"Ireland","y":2000,"v":6.4},{"c":"Ireland","y":2001,"v":6.1},{"c":"Ireland","y":2002,"v":1.1},{"c":"Ireland","y":2003,"v":1.4},{"c":"Ireland","y":2004,"v":2.1},{"c":"Ireland","y":2005,"v":2.4},{"c":"Ireland","y":2006,"v":3.5},{"c":"Ireland","y":2007,"v":2.1},{"c":"Ireland","y":2008,"v":6.5},{"c":"Ireland","y":2009,"v":12.3},
{"c":"Ireland","y":2010,"v":29.9},{"c":"Ireland","y":2011,"v":11.3},{"c":"Ireland","y":2012,"v":4.8},{"c":"Ireland","y":2013,"v":2.1},{"c":"Ireland","y":2014,"v":0.2},{"c":"Ireland","y":2015,"v":0.1},{"c":"Ireland","y":2016,"v":0.2},{"c":"Ireland","y":2017,"v":0.7},{"c":"Ireland","y":2018,"v":1.4},{"c":"Ireland","y":2019,"v":1.8},
{"c":"Ireland","y":2020,"v":3.8},{"c":"Ireland","y":2021,"v":0.7},{"c":"Ireland","y":2022,"v":2.4},{"c":"Ireland","y":2023,"v":2.4},
{"c":"Netherlands","y":1995,"v":1.0},{"c":"Netherlands","y":1996,"v":2.0},{"c":"Netherlands","y":1997,"v":2.3},{"c":"Netherlands","y":1998,"v":2.4},{"c":"Netherlands","y":1999,"v":2.5},
{"c":"Netherlands","y":2000,"v":3.3},{"c":"Netherlands","y":2001,"v":3.5},{"c":"Netherlands","y":2002,"v":1.8},{"c":"Netherlands","y":2003,"v":0.4},{"c":"Netherlands","y":2004,"v":0.7},{"c":"Netherlands","y":2005,"v":1.1},{"c":"Netherlands","y":2006,"v":1.8},{"c":"Netherlands","y":2007,"v":2.1},{"c":"Netherlands","y":2008,"v":3.5},{"c":"Netherlands","y":2009,"v":4.1},
{"c":"Netherlands","y":2010,"v":4.1},{"c":"Netherlands","y":2011,"v":3.5},{"c":"Netherlands","y":2012,"v":2.1},{"c":"Netherlands","y":2013,"v":1.4},{"c":"Netherlands","y":2014,"v":1.1},{"c":"Netherlands","y":2015,"v":1.1},{"c":"Netherlands","y":2016,"v":0.7},{"c":"Netherlands","y":2017,"v":1.1},{"c":"Netherlands","y":2018,"v":1.8},{"c":"Netherlands","y":2019,"v":3.1},
{"c":"Netherlands","y":2020,"v":3.5},{"c":"Netherlands","y":2021,"v":1.8},{"c":"Netherlands","y":2022,"v":0.7},{"c":"Netherlands","y":2023,"v":1.1},
{"c":"Spain","y":1980,"v":-2.2},{"c":"Spain","y":1981,"v":-2.5},{"c":"Spain","y":1982,"v":-5.7},{"c":"Spain","y":1983,"v":-4.7},{"c":"Spain","y":1984,"v":-4.7},{"c":"Spain","y":1985,"v":-4.8},{"c":"Spain","y":1986,"v":-3.3},{"c":"Spain","y":1987,"v":-1.1},{"c":"Spain","y":1988,"v":-1.0},{"c":"Spain","y":1989,"v":-0.4},
{"c":"Spain","y":1990,"v":-1.1},{"c":"Spain","y":1991,"v":-1.6},{"c":"Spain","y":1992,"v":-0.8},{"c":"Spain","y":1993,"v":-2.7},{"c":"Spain","y":1994,"v":-2.3},{"c":"Spain","y":1995,"v":-2.4},{"c":"Spain","y":1996,"v":-1.6},{"c":"Spain","y":1997,"v":0.1},{"c":"Spain","y":1998,"v":0.7},{"c":"Spain","y":1999,"v":1.4},
{"c":"Spain","y":2000,"v":1.8},{"c":"Spain","y":2001,"v":1.8},{"c":"Spain","y":2002,"v":1.8},{"c":"Spain","y":2003,"v":1.4},{"c":"Spain","y":2004,"v":2.1},{"c":"Spain","y":2005,"v":2.8},{"c":"Spain","y":2006,"v":3.3},{"c":"Spain","y":2007,"v":3.1},{"c":"Spain","y":2008,"v":-1.3},{"c":"Spain","y":2009,"v":-9.8},
{"c":"Spain","y":2010,"v":-7.8},{"c":"Spain","y":2011,"v":-7.8},{"c":"Spain","y":2012,"v":-8.9},{"c":"Spain","y":2013,"v":-4.7},{"c":"Spain","y":2014,"v":-3.7},{"c":"Spain","y":2015,"v":-3.0},{"c":"Spain","y":2016,"v":-1.8},{"c":"Spain","y":2017,"v":-1.0},{"c":"Spain","y":2018,"v":-0.6},{"c":"Spain","y":2019,"v":-1.0},
{"c":"Spain","y":2020,"v":-7.8},{"c":"Spain","y":2021,"v":-5.7},{"c":"Spain","y":2022,"v":-2.7},{"c":"Spain","y":2023,"v":-1.8},
{"c":"US","y":2001,"v":1.8},{"c":"US","y":2002,"v":-1.6},{"c":"US","y":2003,"v":-2.8},{"c":"US","y":2004,"v":-2.3},{"c":"US","y":2005,"v":-1.3},{"c":"US","y":2006,"v":-0.3},{"c":"US","y":2007,"v":-0.6},{"c":"US","y":2008,"v":-4.4},{"c":"US","y":2009,"v":-11.4},
{"c":"US","y":2010,"v":-9.1},{"c":"US","y":2011,"v":-7.6},{"c":"US","y":2012,"v":-6.1},{"c":"US","y":2013,"v":-2.7},{"c":"US","y":2014,"v":-2.0},{"c":"US","y":2015,"v":-1.6},{"c":"US","y":2016,"v":-2.3},{"c":"US","y":2017,"v":-2.8},{"c":"US","y":2018,"v":-3.2},{"c":"US","y":2019,"v":-3.5},
{"c":"US","y":2020,"v":-11.8},{"c":"US","y":2021,"v":-9.4},{"c":"US","y":2022,"v":-1.6},{"c":"US","y":2023,"v":-5.7}
]
},
"hconcat": [
{
"title": {"text": "Panel A: Debt", "dx": -24},
"width": 562, "height": 225,
"data": {"name": "debt"},
"mark": {"type": "line", "strokeWidth": 1.5, "clip": true},
"encoding": {
"x": {"field": "y", "type": "quantitative", "scale": {"domain": [1979.23, 2023.8], "nice": false, "zero": false}, "axis": {"values": [1980, 1990, 2000, 2010, 2020], "format": "d", "title": "years", "grid": false}},
"y": {"field": "v", "type": "quantitative", "scale": {"domain": [-12.3, 271], "nice": false, "zero": false}, "axis": {"values": [0, 50, 100, 150, 200, 250], "title": null, "grid": true, "labelAngle": 270, "labelAlign": "center", "labelBaseline": "alphabetic"}},
"color": {"field": "c", "type": "nominal",
"scale": {"domain": ["Belgium","Germany","Italy","Japan","Portugal","UK","France","Greece","Ireland","Netherlands","Spain","US"],
"range": ["#2f5a7e","#ff1a8c","#1f1fff","#8b1c8b","#a8a8e8","#3e7a6e","#1aef8a","#ef8a17","#d2233f","#d1c594","#ff22ff","#ffc90e"]},
"legend": {"legendX": 117, "legendY": 277}}
}
},
{
"title": {"text": "Panel B: Primary Balance", "dx": -25},
"width": 562, "height": 225,
"data": {"name": "pb"},
"mark": {"type": "line", "strokeWidth": 1.5, "clip": true},
"encoding": {
"x": {"field": "y", "type": "quantitative", "scale": {"domain": [1979.25, 2023.8], "nice": false, "zero": false}, "axis": {"values": [1980, 1990, 2000, 2010, 2020], "format": "d", "title": "years", "grid": false}},
"y": {"field": "v", "type": "quantitative", "scale": {"domain": [-14.0, 32.0], "nice": false, "zero": false}, "axis": {"values": [-10, 0, 10, 20, 30], "title": null, "grid": true, "labelAngle": 270, "labelAlign": "center", "labelBaseline": "alphabetic"}},
"color": {"field": "c", "type": "nominal",
"scale": {"domain": ["Belgium","Germany","Italy","Japan","Portugal","UK","France","Greece","Ireland","Netherlands","Spain","US"],
"range": ["#2f5a7e","#ff1a8c","#1f1fff","#8b1c8b","#a8a8e8","#3e7a6e","#2ee82e","#ef8a17","#d2233f","#d1c594","#ff22ff","#ffc90e"]},
"legend": {"legendX": 117, "legendY": 277}}
}
}
],
"resolve": {"scale": {"color": "independent"}, "legend": {"color": "independent"}},
"config": {
"view": {"stroke": null},
"title": {"font": "Liberation Serif", "fontSize": 32, "fontWeight": "bold", "color": "black", "anchor": "middle", "offset": 34},
"axis": {"labelFont": "Liberation Sans", "labelFontSize": 15, "labelColor": "#1a1a1a", "titleFont": "Liberation Sans", "titleFontSize": 15, "titleFontWeight": "normal", "titleColor": "#1a1a1a", "domainColor": "#707070", "tickColor": "#707070", "domainWidth": 1.3, "tickWidth": 1.3, "tickSize": 6, "labelPadding": 5, "titlePadding": 1, "gridColor": "#e6eef1", "gridWidth": 1.3},
"axisX": {"labelPadding": 6, "tickSize": 5},
"legend": {"title": null, "orient": "none", "columns": 2, "symbolType": "M-1.19,0H7.88", "symbolSize": 169, "symbolStrokeWidth": 1.5, "labelFont": "Liberation Sans", "labelFontSize": 15.5, "labelColor": "black", "labelOffset": 53.5, "rowPadding": 4.7, "columnPadding": 23, "padding": 7, "strokeColor": "#888888", "strokeWidth": 1.2, "fillColor": "white", "labelLimit": 300}
}
}
